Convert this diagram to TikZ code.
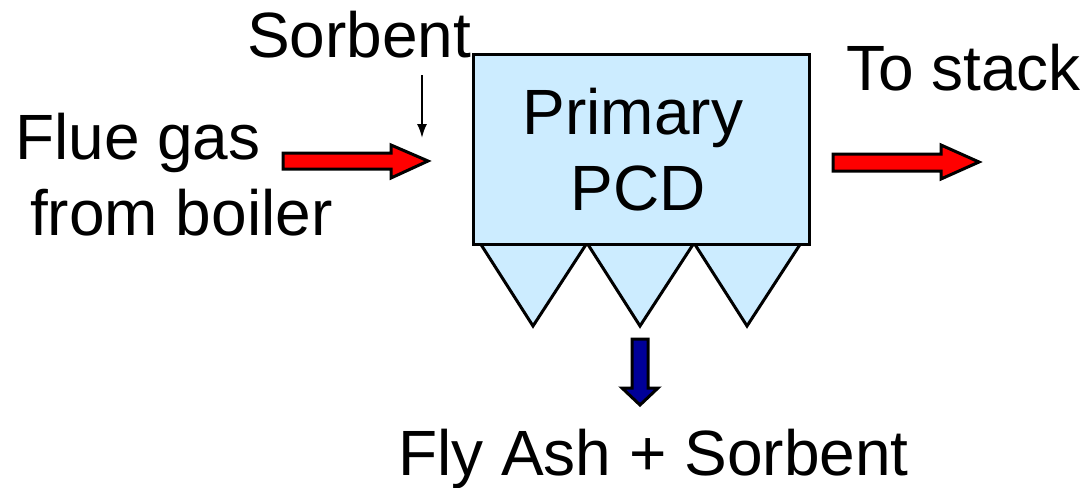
\documentclass[tikz,border=0pt]{standalone}
\usepackage{fontspec}
\setmainfont{Liberation Sans}
\usetikzlibrary{arrows.meta}
\definecolor{pcdblue}{HTML}{CCECFF}
\definecolor{ashblue}{HTML}{000099}
\begin{document}
\begin{tikzpicture}[x=1pt,y=-1pt,
  lbl/.style={font=\fontsize{64}{76}\selectfont, inner sep=0pt, anchor=base west},
  blockred/.style={fill=red, draw=black, line width=3pt, line join=miter},
  blockblue/.style={fill=ashblue, draw=black, line width=3pt, line join=miter},
  unit/.style={fill=pcdblue, draw=black, line width=3pt},
  thinarrow/.style={draw=black, line width=2pt, -{Latex[length=14pt,width=10pt]}}]
\useasboundingbox (0,0) rectangle (1091,487);
% labels
\node[lbl] (sorb) at (247,57) {Sorbent};
\node[lbl] (flue1) at (15,159) {Flue gas};
\node[lbl] (flue2) at (30,235) {from boiler};
\node[lbl] (stack) at (846,90) {To stack};
\node[lbl] (ash) at (398,475) {Fly Ash + Sorbent};
% hoppers
\path[unit] (480,243) -- (533,326) -- (587,243) -- (640,326) -- (694,243) -- (747,326) -- (801,243) -- cycle;
% main unit
\node[unit, minimum width=336pt, minimum height=190pt, inner sep=0pt, anchor=north west] (pcd) at (472,53) {};
\node[lbl, anchor=base] (prim) at (633,134) {Primary};
\node[lbl, anchor=base] (pcdt) at (638,210) {PCD};
% sorbent feed
\coordinate (sA) at (422,75);
\coordinate (sB) at (422,138);
\draw[thinarrow] (sA) -- (sB);
% flue gas in
\coordinate (inA) at (283,161);
\path[blockred] (inA) ++(0,-8) -- (391,153) -- (391,145) -- (428,161) -- (391,178) -- (391,169) -- (283,169) -- cycle;
% to stack
\coordinate (outA) at (833,162);
\path[blockred] (outA) ++(0,-8) -- (941,154) -- (941,145) -- (979,162) -- (941,179) -- (941,171) -- (833,171) -- cycle;
% ash out
\coordinate (ashA) at (640,339);
\path[blockblue] (ashA) ++(-8,0) -- (632,388) -- (622,388) -- (640,405) -- (658,388) -- (648,388) -- (648,339) -- cycle;
\end{tikzpicture}
\end{document}
